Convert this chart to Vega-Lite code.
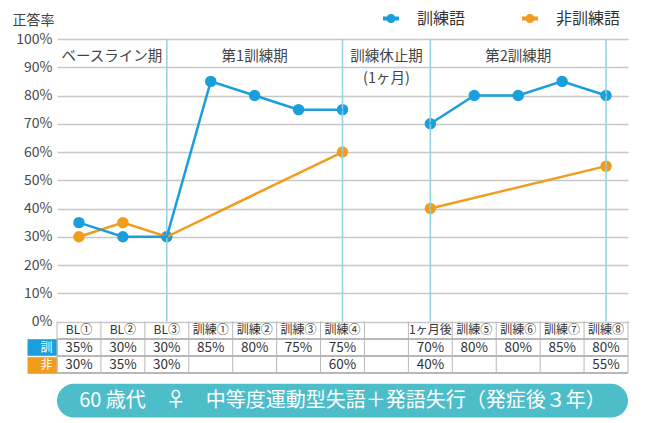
{
  "$schema": "https://vega.github.io/schema/vega-lite/v6.json",
  "width": 571,
  "height": 380,
  "padding": {"left": 12, "top": 9, "right": 22, "bottom": 4},
  "config": {"view": {"stroke": null}, "font": "Noto Sans CJK JP"},
  "datasets": {
    "scores": [
      {"cat": "BL①", "訓練語": 0.35, "非訓練語": 0.30, "phase": "1"},
      {"cat": "BL②", "訓練語": 0.30, "非訓練語": 0.35, "phase": "1"},
      {"cat": "BL③", "訓練語": 0.30, "非訓練語": 0.30, "phase": "1"},
      {"cat": "訓練①", "訓練語": 0.85, "非訓練語": null, "phase": "1"},
      {"cat": "訓練②", "訓練語": 0.80, "非訓練語": null, "phase": "1"},
      {"cat": "訓練③", "訓練語": 0.75, "非訓練語": null, "phase": "1"},
      {"cat": "訓練④", "訓練語": 0.75, "非訓練語": 0.60, "phase": "1"},
      {"cat": "休止期", "訓練語": null, "非訓練語": null, "phase": "gap"},
      {"cat": "1ヶ月後", "訓練語": 0.70, "非訓練語": 0.40, "phase": "2"},
      {"cat": "訓練⑤", "訓練語": 0.80, "非訓練語": null, "phase": "2"},
      {"cat": "訓練⑥", "訓練語": 0.80, "非訓練語": null, "phase": "2"},
      {"cat": "訓練⑦", "訓練語": 0.85, "非訓練語": null, "phase": "2"},
      {"cat": "訓練⑧", "訓練語": 0.80, "非訓練語": 0.55, "phase": "2"}
    ],
    "periods": [
      {"cat": "訓練②", "label": "第1訓練期"},
      {"cat": "休止期", "label": "訓練休止期"},
      {"cat": "訓練⑥", "label": "第2訓練期"}
    ]
  },
  "data": {"name": "scores"},
  "layer": [
    {
      "transform": [{"fold": ["非訓練語", "訓練語"], "as": ["series", "rate"]}, {"filter": "datum.rate != null"}],
      "mark": {"type": "point", "filled": true, "size": 130, "opacity": 1},
      "encoding": {
        "x": {"field": "cat", "type": "nominal", "scale": {"type": "band", "domain": ["BL①", "BL②", "BL③", "訓練①", "訓練②", "訓練③", "訓練④", "休止期", "1ヶ月後", "訓練⑤", "訓練⑥", "訓練⑦", "訓練⑧"], "paddingInner": 0, "paddingOuter": 0}, "axis": null},
        "y": {
          "field": "rate",
          "type": "quantitative",
          "scale": {"domain": [-0.345, 1], "nice": false, "zero": false},
          "axis": {
            "title": "正答率",
            "titleAngle": 0,
            "titleX": -45,
            "titleY": -15,
            "titleAlign": "left",
            "titleBaseline": "alphabetic",
            "titleFontSize": 14,
            "titleFontWeight": "normal",
            "titleColor": "#444",
            "values": [0, 0.1, 0.2, 0.3, 0.4, 0.5, 0.6, 0.7, 0.8, 0.9, 1, -0.0915, -0.1525],
            "tickCount": 30,
            "labelExpr": "datum.value < -0.12 ? '非\u00a0' : datum.value < -0.05 ? '訓\u00a0' : format(datum.value, '.0%')",
            "labelFontSize": {"condition": {"test": "datum.value < 0", "value": 12}, "value": 14},
            "labelColor": {"condition": {"test": "datum.value < 0", "value": "#ffffff"}, "value": "#4a4a4a"},
            "labelPadding": -25,
            "labelOverlap": false,
            "labelFlush": false,
            "labelBound": false,
            "grid": true,
            "gridColor": "#c8c8c8",
            "gridWidth": 1.3,
            "gridOpacity": {"condition": {"test": "datum.value < 0", "value": 0}, "value": 1},
            "domain": false,
            "ticks": true,
            "tickSize": 30,
            "tickWidth": {"condition": {"test": "datum.value < 0", "value": 16.6}, "value": 0},
            "tickOpacity": {"condition": {"test": "datum.value < 0", "value": 1}, "value": 0},
            "tickColor": {"condition": {"test": "datum.value < -0.12", "value": "#f19c1c"}, "value": "#1a9fdc"}
          }
        },
        "color": {
          "field": "series",
          "type": "nominal",
          "scale": {"domain": ["訓練語", "非訓練語"], "range": ["#1a9fdc", "#f19c1c"]},
          "legend": {
            "orient": "none",
            "legendX": 324.5,
            "legendY": -30,
            "direction": "horizontal",
            "title": null,
            "padding": 0,
            "symbolType": "M-1.07,0H1.07M-0.33,0A0.33,0.33,0,1,1,0.33,0A0.33,0.33,0,1,1,-0.33,0Z",
            "symbolSize": 225,
            "symbolStrokeWidth": 4,
            "labelFontSize": 16,
            "labelColor": "#333",
            "labelOffset": 16.5,
            "columnPadding": 48,
            "encode": {"symbols": {"update": {"size": {"value": 225}, "fill": {"scale": "color", "field": "value"}, "stroke": {"scale": "color", "field": "value"}, "strokeWidth": {"value": 4}, "opacity": {"value": 1}}}}
          }
        }
      }
    },
    {
      "mark": {"type": "rule", "color": "#b8b8b8", "strokeWidth": 1},
      "encoding": {"y": {"datum": -0.061, "type": "quantitative"}}
    },
    {
      "mark": {"type": "rule", "color": "#b8b8b8", "strokeWidth": 1},
      "encoding": {"y": {"datum": -0.122, "type": "quantitative"}}
    },
    {
      "mark": {"type": "rule", "color": "#b8b8b8", "strokeWidth": 1},
      "encoding": {"y": {"datum": -0.183, "type": "quantitative"}}
    },
    {
      "mark": {"type": "rule", "color": "#b8b8b8", "strokeWidth": 1},
      "encoding": {
        "x": {"field": "cat", "type": "nominal", "bandPosition": 0, "axis": null},
        "y": {"datum": 0, "type": "quantitative"},
        "y2": {"datum": -0.183}
      }
    },
    {
      "transform": [{"filter": "datum.cat == '訓練⑧'"}],
      "mark": {"type": "rule", "color": "#b8b8b8", "strokeWidth": 1},
      "encoding": {
        "x": {"field": "cat", "type": "nominal", "bandPosition": 1, "axis": null},
        "y": {"datum": 0, "type": "quantitative"},
        "y2": {"datum": -0.183}
      }
    },
    {
      "transform": [{"filter": {"field": "cat", "oneOf": ["BL③", "訓練④", "1ヶ月後", "訓練⑧"]}}],
      "mark": {"type": "rule", "color": "#92d0e2", "strokeWidth": 1.5},
      "encoding": {
        "x": {"field": "cat", "type": "nominal", "axis": null},
        "y": {"datum": 1, "type": "quantitative"},
        "y2": {"datum": 0}
      }
    },
    {
      "data": {"values": [{"cat": "BL②", "label": "ベースライン期"}]},
      "mark": {"type": "text", "fontSize": 14.5, "color": "#444", "baseline": "middle"},
      "encoding": {
        "x": {"field": "cat", "type": "nominal", "bandPosition": 0.25, "axis": null},
        "y": {"datum": 0.938, "type": "quantitative"},
        "text": {"field": "label"}
      }
    },
    {
      "data": {"name": "periods"},
      "mark": {"type": "text", "fontSize": 14.5, "color": "#444", "baseline": "middle"},
      "encoding": {
        "x": {"field": "cat", "type": "nominal", "axis": null},
        "y": {"datum": 0.938, "type": "quantitative"},
        "text": {"field": "label"}
      }
    },
    {
      "data": {"values": [{"cat": "休止期", "label": "(1ヶ月)"}]},
      "mark": {"type": "text", "fontSize": 14.5, "color": "#444", "baseline": "middle"},
      "encoding": {
        "x": {"field": "cat", "type": "nominal", "axis": null},
        "y": {"datum": 0.857, "type": "quantitative"},
        "text": {"field": "label"}
      }
    },
    {
      "transform": [{"fold": ["非訓練語", "訓練語"], "as": ["series", "rate"]}, {"filter": "datum.rate != null"}],
      "mark": {"type": "line", "strokeWidth": 2.5},
      "encoding": {
        "x": {"field": "cat", "type": "nominal", "axis": null},
        "y": {"field": "rate", "type": "quantitative"},
        "color": {"field": "series", "type": "nominal"},
        "detail": {"field": "phase"}
      }
    },
    {
      "transform": [{"filter": "datum.cat != '休止期'"}],
      "mark": {"type": "text", "fontSize": 12, "color": "#333", "baseline": "middle"},
      "encoding": {
        "x": {"field": "cat", "type": "nominal", "axis": null},
        "y": {"datum": -0.0295, "type": "quantitative"},
        "text": {"field": "cat"}
      }
    },
    {
      "transform": [{"filter": "datum['訓練語'] != null"}],
      "mark": {"type": "text", "fontSize": 13.5, "color": "#333", "baseline": "middle"},
      "encoding": {
        "x": {"field": "cat", "type": "nominal", "axis": null},
        "y": {"datum": -0.0925, "type": "quantitative"},
        "text": {"field": "訓練語", "type": "quantitative", "format": ".0%"}
      }
    },
    {
      "transform": [{"filter": "datum['非訓練語'] != null"}],
      "mark": {"type": "text", "fontSize": 13.5, "color": "#333", "baseline": "middle"},
      "encoding": {
        "x": {"field": "cat", "type": "nominal", "axis": null},
        "y": {"datum": -0.1535, "type": "quantitative"},
        "text": {"field": "非訓練語", "type": "quantitative", "format": ".0%"}
      }
    },
    {
      "data": {"values": [{"label": "60 歳代　♀　中等度運動型失語＋発語失行（発症後３年）"}]},
      "mark": {"type": "rect", "color": "#4cbdc9", "cornerRadius": 17},
      "encoding": {
        "y": {"datum": -0.22, "type": "quantitative"},
        "y2": {"datum": -0.34}
      }
    },
    {
      "data": {"values": [{"label": "60 歳代　♀　中等度運動型失語＋発語失行（発症後３年）"}]},
      "mark": {"type": "text", "fontSize": 20, "color": "#ffffff", "baseline": "middle"},
      "encoding": {
        "y": {"datum": -0.28, "type": "quantitative"},
        "text": {"field": "label"}
      }
    }
  ]
}
